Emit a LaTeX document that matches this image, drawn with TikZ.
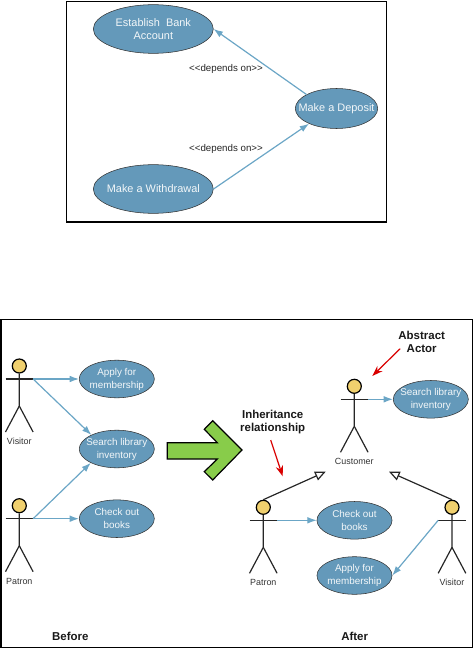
\documentclass[tikz,border=0pt]{standalone}
\usepackage{fontspec}
\setmainfont{Liberation Sans}
\usepackage{xcolor}
\usetikzlibrary{shapes.geometric, arrows.meta}
\definecolor{usecaseblue}{HTML}{6499BA}
\definecolor{linkblue}{HTML}{6BA6C6}
\definecolor{headyellow}{HTML}{F0D06E}
\definecolor{bigarrow}{HTML}{88CC4A}

\begin{document}
\begin{tikzpicture}[
    x=0.75pt, y=-0.75pt,
    usecase/.style={ellipse, draw=black!80, fill=usecaseblue, inner xsep=-25pt, inner ysep=-12pt, minimum width=56.3pt, minimum height=28.2pt, align=center, text=white!92!usecaseblue, font=\fontsize{7.4}{9.75}\selectfont},
    usecaseL/.style={usecase, minimum width=90pt, minimum height=36.5pt, font=\fontsize{8.2}{9.75}\selectfont},
    arr/.style={-{Latex[length=7pt, width=5pt]}, linkblue, line width=0.9pt},
    genarr/.style={-{Triangle[open, fill=white, length=8pt, width=7pt]}, black!85, line width=0.9pt},
    redarr/.style={-{Stealth[length=8pt, width=5.5pt]}, red!85!black, line width=0.9pt},
    lbl/.style={font=\fontsize{6.7}{8}\selectfont, text=black!80},
    dep/.style={font=\fontsize{7.3}{8}\selectfont, text=black!85},
    note/.style={font=\bfseries\fontsize{8.6}{9.75}\selectfont, align=center, text=black!90, inner sep=0pt},
    frame/.style={draw=black, line width=0.8pt},
    actor/.pic={
        \node[circle, draw=black, fill=headyellow, line width=0.9pt, minimum size=10.5pt, inner sep=0pt] (-head) at (0,0) {};
        \coordinate (-lhand) at (-13.8,13);
        \coordinate (-rhand) at (13.8,13);
        \draw[black!85, line width=0.9pt] (-lhand) -- (-rhand);
        \draw[black!85, line width=0.9pt] (-head) -- (0,40) -- (-13.8,66);
        \draw[black!85, line width=0.9pt] (0,40) -- (13.8,66);
        \node[lbl] (-name) at (0,75.5) {#1};
    }
]
\useasboundingbox (0,0) rectangle (474,649);

% Top diagram
\draw[frame] (66.7,1.5) rectangle (386.7,222);
\node[usecaseL] (bank) at (153.3,29) {Establish\ \ Bank\\Account};
\node[usecaseL, minimum width=61.8pt, minimum height=30pt] (deposit) at (336.5,108.5) {Make a Deposit};
\node[usecaseL] (withdraw) at (153.3,189) {Make a Withdrawal};
\node[dep] (depup) at (226,69) {{<}{<}depends on{>}{>}};
\node[dep] (depdown) at (226,149) {{<}{<}depends on{>}{>}};
\draw[arr] (deposit.155) -- (bank.east);
\draw[arr] (withdraw.east) -- (deposit.209);

% Bottom diagram
\draw[frame] (1,319.3) rectangle (472.5,647.7);

% Before
\pic (visitorA) at (19.3,366) {actor={Visitor}};
\pic (patronA) at (19.3,505.7) {actor={Patron}};
\node[usecase] (applyA) at (116.8,379) {Apply for\\membership};
\node[usecase] (searchA) at (116.8,449) {Search library\\inventory};
\node[usecase] (checkA) at (116.8,518.7) {Check out\\books};
\draw[arr] (visitorA-rhand) -- (applyA.west);
\draw[arr] (visitorA-rhand) -- (searchA.151);
\draw[arr] (patronA-rhand) -- (searchA.208);
\draw[arr] (patronA-rhand) -- (checkA.west);

% Big arrow
\draw[black, line width=0.9pt, fill=bigarrow] (167.3,442.7) -- (217.3,442.7) -- (204.3,429.3) -- (212.7,420.7) -- (242,450) -- (212.7,480) -- (204.3,471.7) -- (217.3,459) -- (167.3,459) -- cycle;

% After
\pic (customer) at (354.3,386.3) {actor={Customer}};
\pic (patronB) at (263.3,507.3) {actor={Patron}};
\pic (visitorB) at (452,507.3) {actor={Visitor}};
\node[usecase] (searchB) at (430.8,399.3) {Search library\\inventory};
\node[usecase] (checkB) at (354.5,520.3) {Check out\\books};
\node[usecase] (applyB) at (354.5,575.5) {Apply for\\membership};
\draw[arr] (customer-rhand) -- (searchB.west);
\draw[arr] (patronB-rhand) -- (checkB.west);
\draw[arr] (visitorB-lhand) -- (applyB.east);

\coordinate (inheritL) at (325.7,471.7);
\coordinate (inheritR) at (389,471.7);
\draw[genarr] (patronB-head.north) -- (inheritL);
\draw[genarr] (visitorB-head.north) -- (inheritR);

% Notes
\node[note] (abstract) at (421.7,341.7) {Abstract\\Actor};
\node[note] (inherit) at (272.7,422) {Inheritance\\relationship};
\coordinate (abstractTip) at (372.3,376);
\coordinate (inheritTip) at (282.7,476.3);
\draw[redarr] ([shift={(2,-4)}]abstract.south west) -- (abstractTip);
\draw[redarr] ([shift={(-2,6)}]inherit.south) -- (inheritTip);

\node[note] (before) at (70.3,636) {Before};
\node[note] (after) at (354.7,636) {After};

\end{tikzpicture}
\end{document}
